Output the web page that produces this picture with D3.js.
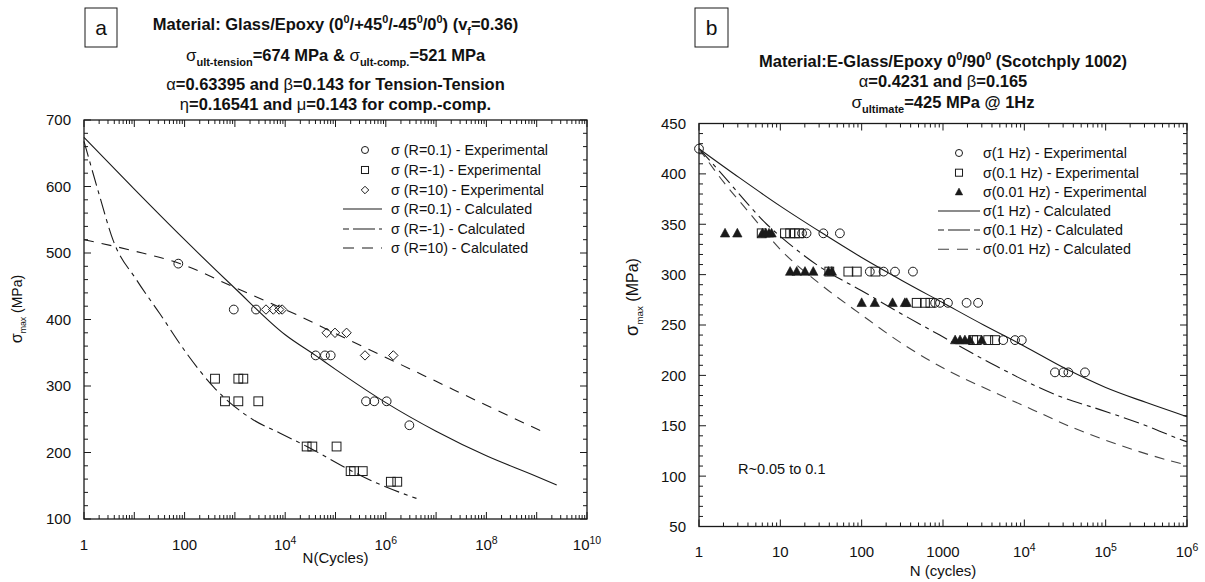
<!DOCTYPE html>
<html><head><meta charset="utf-8">
<script src="https://cdn.jsdelivr.net/npm/d3@7"></script>
<style>
body{margin:0;background:#fff}
svg{display:block}
text{font-family:"Liberation Sans",Arial,Helvetica,sans-serif;fill:#111}
</style>
</head><body>
<svg id="c" width="1205" height="582"></svg>
<script>
// ---------------- Panel a data ----------------
const aXTicks = [1, 100, 1e4, 1e6, 1e8, 1e10];
const aXTickLabels = ["1", "100", "10^4", "10^6", "10^8", "10^10"];
const aYTicks = [100, 200, 300, 400, 500, 600, 700];

const aExpR01N = [75, 950, 2630, 40400, 61700, 80300, 404000, 590000, 1040000, 2940000];
const aExpR01S = [484, 415, 415, 346, 346, 346, 277, 277, 277, 241];
const aExpRm1N = [402, 1170, 1470, 635, 1170, 2920, 26700, 34600, 105000, 200000, 234000, 348000, 1260000, 1690000];
const aExpRm1S = [311, 311, 311, 277, 277, 277, 209, 209, 209, 172, 172, 172, 156, 156];
const aExpR10N = [4150, 5800, 7600, 8700, 66800, 97700, 166000, 386000, 1410000];
const aExpR10S = [415, 415, 415, 415, 380, 380, 380, 346, 346];

const aCalcR01N = [1, 10, 100, 1000, 1e4, 4e4, 1e5, 5.6e5, 1e6, 1e7, 1e8, 1e9, 2.5e9];
const aCalcR01S = [674, 596, 520, 447, 377, 346, 325, 287, 275, 232, 195, 164, 151];
const aCalcRm1N = [1, 1.26, 2, 3.8, 11.2, 32, 110, 371, 2340, 7940, 27000, 200000, 660000, 4070000];
const aCalcRm1S = [668, 641, 588, 519, 459, 409, 349, 299, 249, 229, 209, 173, 154, 131];
const aCalcR10N = [1, 10, 75, 1000, 17000, 1e5, 1e6, 1e7, 1e8, 1.26e9];
const aCalcR10S = [520, 503, 485, 448, 407, 379, 343, 307, 271, 232];

// ---------------- Panel b data ----------------
const bXTicks = [1, 10, 100, 1000, 1e4, 1e5, 1e6];
const bXTickLabels = ["1", "10", "100", "1000", "10^4", "10^5", "10^6"];
const bYTicks = [50, 100, 150, 200, 250, 300, 350, 400, 450];

const bExp1N = [1, 18.5, 21, 33.8, 54, 126, 186, 257, 427, 800, 920, 1150, 1950, 2700, 5500, 7680, 9300, 23800, 30100, 34800, 55700];
const bExp1S = [425, 341, 341, 341, 341, 303, 303, 303, 303, 272, 272, 272, 272, 272, 235, 235, 235, 203, 203, 203, 203];
const bExp01N = [5.9, 11.4, 13.2, 15.1, 17.1, 40, 68.6, 87, 148, 475, 600, 700, 2350, 2600, 3600, 4360];
const bExp01S = [341, 341, 341, 341, 341, 303, 303, 303, 303, 272, 272, 272, 235, 235, 235, 235];
const bExp001N = [2.09, 2.96, 6.0, 6.6, 7.25, 7.8, 13.2, 15.9, 20.1, 25.4, 39, 43, 100, 145, 240, 340, 358, 1410, 1620, 1860, 2140, 2990];
const bExp001S = [341, 341, 341, 341, 341, 341, 303, 303, 303, 303, 303, 303, 272, 272, 272, 272, 272, 235, 235, 235, 235, 235];

const bCalc1N = [1, 3.16, 10, 31.6, 100, 316, 1000, 3162, 1e4, 31623, 1e5, 316228, 1e6];
const bCalc1S = [425, 396, 368, 342, 317, 294, 272, 250, 229, 207, 188, 173, 159];
const bCalc01N = [1, 2, 4, 6.8, 10, 31.6, 100, 295, 912, 4570, 27500, 85000, 316228, 794000, 1e6];
const bCalc01S = [425, 398, 370, 350, 338, 307, 284, 262, 240, 209, 179, 166, 150, 137, 134];
const bCalc001N = [1, 2, 4, 10, 31.6, 100, 295, 871, 4570, 12600, 39800, 158000, 794000, 1e6];
const bCalc001S = [425, 392, 363, 325, 290, 260, 233, 210, 182, 166, 148, 130, 113, 111];

// ---------------- helpers ----------------
const svg = d3.select("#c");
const INK = "#1a1a1a";
const TITLE_FS = 16.5;
const LEG_FS = 14.3;

function rich(textSel, parts, base) {
  let shift = 0;
  parts.forEach(p => {
    const ts = textSel.append("tspan").text(p.t);
    const target = p.s === "sup" ? -0.42 * base : p.s === "sub" ? 0.32 * base : 0;
    ts.attr("dy", target - shift);
    shift = target;
    ts.attr("font-size", p.fs || (p.s ? base * 0.66 : base));
    if (p.w) ts.attr("font-weight", p.w);
  });
}

function tickLabel(g, x, y, lab, fs) {
  const t = g.append("text").attr("x", x).attr("y", y).attr("text-anchor", "middle");
  if (lab.indexOf("^") >= 0) {
    const [b, e] = lab.split("^");
    rich(t, [{t: b}, {t: e, s: "sup", fs: fs * 0.7}], fs);
  } else {
    t.attr("font-size", fs).text(lab);
  }
}

const shapes = {
  circle: (g, x, y, k = 1) => g.append("circle").attr("cx", x).attr("cy", y).attr("r", 4.4 * k)
      .attr("fill", "none").attr("stroke", INK).attr("stroke-width", 1),
  square: (g, x, y, k = 1) => g.append("rect").attr("x", x - 4.4 * k).attr("y", y - 4.4 * k)
      .attr("width", 8.8 * k).attr("height", 8.8 * k)
      .attr("fill", "none").attr("stroke", INK).attr("stroke-width", 1),
  diamond: (g, x, y, k = 1) => g.append("path").attr("transform", `translate(${x},${y}) scale(${k})`)
      .attr("d", "M0,-4.7L4.7,0L0,4.7L-4.7,0Z").attr("fill", "none").attr("stroke", INK).attr("stroke-width", 1 / k),
  tri: (g, x, y, k = 1) => g.append("path").attr("transform", `translate(${x},${y}) scale(${k})`)
      .attr("d", "M0,-5L4.7,3.7L-4.7,3.7Z").attr("fill", INK).attr("stroke", INK).attr("stroke-width", 0.6)
};

function panel(cfg) {
  const g = svg.append("g");
  const x = cfg.x, y = cfg.y;
  const [x0, x1] = x.range(), [yb, yt] = y.range();

  // calculated curves
  const line = d3.line().x(d => x(d[0])).y(d => y(d[1])).curve(d3.curveMonotoneX);
  cfg.curves.forEach(c => {
    const pts = c.n.map((n, i) => [n, c.s[i]]);
    g.append("path").attr("d", line(pts)).attr("fill", "none")
      .attr("stroke", c.color || INK).attr("stroke-width", 1.1)
      .attr("stroke-dasharray", c.dash || null);
  });
  // experimental markers
  cfg.points.forEach(p => {
    p.n.forEach((n, i) => shapes[p.shape](g, x(n), y(p.s[i])));
  });

  // frame
  g.append("rect").attr("x", x0).attr("y", yt).attr("width", x1 - x0).attr("height", yb - yt)
    .attr("fill", "none").attr("stroke", INK).attr("stroke-width", 1.3);

  // x ticks (log decades with 2..9 minors)
  const [d0, d1] = x.domain().map(v => Math.round(Math.log10(v)));
  const xt = [];
  for (let d = d0; d < d1; d++) for (let k = 1; k <= 9; k++) xt.push([k * Math.pow(10, d), k === 1]);
  xt.push([Math.pow(10, d1), true]);
  xt.forEach(([v, major]) => {
    const L = major ? 7 : 4, px = x(v);
    g.append("line").attr("x1", px).attr("x2", px).attr("y1", yb).attr("y2", yb - L).attr("stroke", INK).attr("stroke-width", 1);
    g.append("line").attr("x1", px).attr("x2", px).attr("y1", yt).attr("y2", yt + L).attr("stroke", INK).attr("stroke-width", 1);
  });
  // y ticks
  const [v0, v1] = y.domain();
  for (let v = v0; v <= v1 + 1e-9; v += cfg.yMinor) {
    const major = Math.abs(v / cfg.yMajor - Math.round(v / cfg.yMajor)) < 1e-6;
    const L = major ? 7 : 4, py = y(v);
    g.append("line").attr("x1", x0).attr("x2", x0 + L).attr("y1", py).attr("y2", py).attr("stroke", INK).attr("stroke-width", 1);
    g.append("line").attr("x1", x1).attr("x2", x1 - L).attr("y1", py).attr("y2", py).attr("stroke", INK).attr("stroke-width", 1);
  }
  // tick labels
  cfg.xTicks.forEach((v, i) => tickLabel(g, x(v), cfg.xLabY, cfg.xLabels[i], 15));
  cfg.yTicks.forEach(v => g.append("text").attr("x", x0 - 13).attr("y", y(v)).attr("dy", "0.36em")
      .attr("text-anchor", "end").attr("font-size", 15).text(v));

  // axis titles
  g.append("text").attr("x", (x0 + x1) / 2).attr("y", cfg.xTitleY).attr("text-anchor", "middle")
    .attr("font-size", 15).text(cfg.xTitle);
  const yt_ = g.append("text").attr("transform", `translate(${cfg.yTitlePos[0]},${cfg.yTitlePos[1]}) rotate(-90)`)
    .attr("text-anchor", "middle");
  rich(yt_, [{t: "σ", fs: cfg.yTitleFs + 2}, {t: "max", s: "sub", fs: cfg.yTitleFs * 0.62}, {t: " (MPa)"}], cfg.yTitleFs);

  // legend
  cfg.legend.forEach((it, i) => {
    const ly = cfg.legY[i];
    if (it.shape) shapes[it.shape](g, cfg.legMarkX, ly, 0.8);
    if (it.dash !== undefined) g.append("line").attr("x1", cfg.legLine[0]).attr("x2", cfg.legLine[1])
      .attr("y1", ly).attr("y2", ly).attr("stroke", it.color || INK).attr("stroke-width", 1.1)
      .attr("stroke-dasharray", it.dash || null);
    g.append("text").attr("x", cfg.legTextX).attr("y", ly).attr("dy", "0.36em").attr("font-size", LEG_FS).text(it.label);
  });

  // titles
  cfg.titles.forEach(tl => {
    const t = g.append("text").attr("x", (x0 + x1) / 2).attr("y", tl.y).attr("text-anchor", "middle")
      .attr("font-weight", "bold");
    rich(t, tl.parts, TITLE_FS);
  });
  // panel letter box
  g.append("rect").attr("x", cfg.box[0]).attr("y", cfg.box[1]).attr("width", cfg.box[2]).attr("height", cfg.box[3])
    .attr("fill", "#fff").attr("stroke", INK).attr("stroke-width", 1);
  g.append("text").attr("x", cfg.box[0] + cfg.box[2] / 2).attr("y", cfg.box[1] + cfg.box[3] / 2).attr("dy", "0.36em")
    .attr("text-anchor", "middle").attr("font-size", 21).text(cfg.letter);
  return g;
}

const DASH_DOT = "16,5,4,5";
const DASH = "10,8";

// ---------------- Panel a ----------------
panel({
  x: d3.scaleLog().domain([1, 1e10]).range([84, 587]),
  y: d3.scaleLinear().domain([100, 700]).range([519, 120]),
  yMinor: 20, yMajor: 100,
  xTicks: aXTicks, xLabels: aXTickLabels, yTicks: aYTicks,
  xLabY: 550, xTitleY: 563, xTitle: "N(Cycles)",
  yTitlePos: [22, 309], yTitleFs: 14,
  curves: [
    {n: aCalcR01N, s: aCalcR01S},
    {n: aCalcRm1N, s: aCalcRm1S, dash: DASH_DOT},
    {n: aCalcR10N, s: aCalcR10S, dash: DASH}
  ],
  points: [
    {shape: "circle", n: aExpR01N, s: aExpR01S},
    {shape: "square", n: aExpRm1N, s: aExpRm1S},
    {shape: "diamond", n: aExpR10N, s: aExpR10S}
  ],
  legend: [
    {shape: "circle", label: "σ (R=0.1) - Experimental"},
    {shape: "square", label: "σ (R=-1) - Experimental"},
    {shape: "diamond", label: "σ (R=10) - Experimental"},
    {dash: "", label: "σ (R=0.1) - Calculated"},
    {dash: "6,4,16,0", label: "σ (R=-1) - Calculated"},
    {dash: "11,8", label: "σ (R=10) - Calculated"}
  ],
  legY: [150, 170, 190, 209, 229, 248],
  legMarkX: 365, legLine: [343, 382], legTextX: 391,
  titles: [
    {y: 30, parts: [{t: "Material: Glass/Epoxy (0"}, {t: "0", s: "sup"}, {t: "/+45"}, {t: "0", s: "sup"}, {t: "/-45"}, {t: "0", s: "sup"},
      {t: "/0"}, {t: "0", s: "sup"}, {t: ") (v"}, {t: "f", s: "sub"}, {t: "=0.36)"}]},
    {y: 61, parts: [{t: "σ", w: "normal", fs: 17}, {t: "ult-tension", s: "sub", fs: 11}, {t: "=674 MPa & "},
      {t: "σ", w: "normal", fs: 17}, {t: "ult-comp.", s: "sub", fs: 11}, {t: "=521 MPa"}]},
    {y: 90, parts: [{t: "α", w: "normal"}, {t: "=0.63395 and "}, {t: "β", w: "normal"}, {t: "=0.143 for Tension-Tension"}]},
    {y: 110, parts: [{t: "η", w: "normal"}, {t: "=0.16541 and "}, {t: "μ", w: "normal"}, {t: "=0.143 for comp.-comp."}]}
  ],
  box: [85, 8, 32, 39], letter: "a"
});

// ---------------- Panel b ----------------
panel({
  x: d3.scaleLog().domain([1, 1e6]).range([699, 1187]),
  y: d3.scaleLinear().domain([50, 450]).range([526.5, 123.5]),
  yMinor: 10, yMajor: 50,
  xTicks: bXTicks, xLabels: bXTickLabels, yTicks: bYTicks,
  xLabY: 557, xTitleY: 576, xTitle: "N (cycles)",
  yTitlePos: [638, 297], yTitleFs: 16,
  curves: [
    {n: bCalc1N, s: bCalc1S},
    {n: bCalc01N, s: bCalc01S, dash: DASH_DOT},
    {n: bCalc001N, s: bCalc001S, dash: "10,7", color: "#444"}
  ],
  points: [
    {shape: "circle", n: bExp1N, s: bExp1S},
    {shape: "square", n: bExp01N, s: bExp01S},
    {shape: "tri", n: bExp001N, s: bExp001S}
  ],
  legend: [
    {shape: "circle", label: "σ(1 Hz) - Experimental"},
    {shape: "square", label: "σ(0.1 Hz) - Experimental"},
    {shape: "tri", label: "σ(0.01 Hz) - Experimental"},
    {dash: "", label: "σ(1 Hz) - Calculated"},
    {dash: "6,4,16,0", label: "σ(0.1 Hz) - Calculated"},
    {dash: "11,8", label: "σ(0.01 Hz) - Calculated", color: "#444"}
  ],
  legY: [153, 172.7, 192, 211, 230, 249.3],
  legMarkX: 959, legLine: [938, 980], legTextX: 983,
  titles: [
    {y: 67, parts: [{t: "Material:E-Glass/Epoxy 0"}, {t: "0", s: "sup"}, {t: "/90"}, {t: "0", s: "sup"}, {t: " (Scotchply 1002)"}]},
    {y: 87, parts: [{t: "α", w: "normal"}, {t: "=0.4231 and "}, {t: "β", w: "normal"}, {t: "=0.165"}]},
    {y: 108, parts: [{t: "σ", w: "normal", fs: 17}, {t: "ultimate", s: "sub", fs: 11}, {t: "=425 MPa @ 1Hz"}]}
  ],
  box: [695, 8, 33, 39], letter: "b"
});

// panel b annotation
svg.append("text").attr("x", 738).attr("y", 469).attr("dy", "0.36em").attr("font-size", 14.5).text("R~0.05 to 0.1");
</script>
</body></html>
